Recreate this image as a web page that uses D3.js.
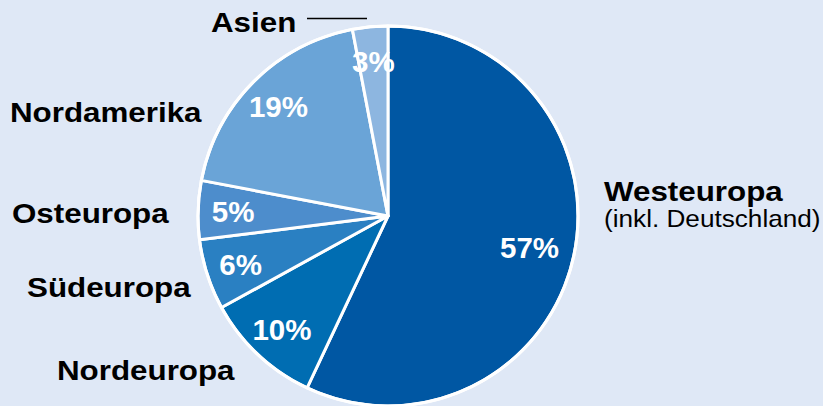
<!DOCTYPE html>
<html>
<head>
<meta charset="utf-8">
<script src="https://cdn.jsdelivr.net/npm/d3@7"></script>
<style>
  html, body { margin: 0; padding: 0; background: #dfe8f6; }
  svg { display: block; }
  text { font-family: "Liberation Sans", Arial, sans-serif; }
</style>
</head>
<body>
<svg id="chart" width="823" height="406"></svg>
<script>
// Data
const regions = ["Westeuropa", "Nordeuropa", "Südeuropa", "Osteuropa", "Nordamerika", "Asien"];
const shares = [57, 10, 6, 5, 19, 3];
const colors = ["#0057a3", "#006db2", "#2a80c2", "#4d8dcc", "#6aa4d7", "#8db6e0"];
const subtitle = "(inkl. Deutschland)";

// Layout (kept separate from data)
const W = 823, H = 406;
const cx = 388, cy = 216, R = 190;
const nameLayout = {
  "Westeuropa": {x: 604, y: 201},
  "Nordeuropa": {x: 57, y: 380},
  "Südeuropa": {x: 27, y: 297},
  "Osteuropa": {x: 12, y: 223},
  "Nordamerika": {x: 10, y: 122},
  "Asien": {x: 211, y: 32}
};

const svg = d3.select("#chart");
svg.append("rect").attr("width", W).attr("height", H).attr("fill", "#dfe8f6");

const data = regions.map((r, i) => ({name: r, value: shares[i], color: colors[i]}));

const pie = d3.pie().value(d => d.value).sort(null);
const arcs = pie(data);
const arc = d3.arc().innerRadius(0).outerRadius(R);

const g = svg.append("g").attr("transform", `translate(${cx},${cy})`);

g.selectAll("path.slice")
  .data(arcs)
  .join("path")
  .attr("class", "slice")
  .attr("d", arc)
  .attr("fill", d => d.data.color)
  .attr("stroke", "#ffffff")
  .attr("stroke-width", 3)
  .attr("stroke-linejoin", "round");

// outer white ring
g.append("circle").attr("r", R).attr("fill", "none").attr("stroke", "#fff").attr("stroke-width", 3);

// percentage labels
g.selectAll("text.pct")
  .data(arcs)
  .join("text")
  .attr("class", "pct")
  .attr("transform", d => {
    const lr = d.data.value > 50 ? 145 : 155;
    const c = d3.arc().innerRadius(lr).outerRadius(lr).centroid(d);
    return `translate(${c[0]},${c[1]})`;
  })
  .attr("text-anchor", "middle")
  .attr("dy", "0.36em")
  .attr("fill", "#ffffff")
  .attr("font-weight", "bold")
  .attr("font-size", 29.5)
  .text(d => d.data.value + "%");

// category labels
const names = svg.append("g");
data.forEach(d => {
  const p = nameLayout[d.name];
  names.append("text")
    .attr("transform", `translate(${p.x},${p.y}) scale(1.1,1)`)
    .attr("font-weight", "bold")
    .attr("font-size", 28.5)
    .attr("fill", "#000")
    .text(d.name);
});

// subtitle for Westeuropa
svg.append("text")
  .attr("transform", `translate(${nameLayout["Westeuropa"].x},227) scale(1.09,1)`)
  .attr("font-size", 24)
  .attr("fill", "#000")
  .text(subtitle);

// leader line for Asien
svg.append("line")
  .attr("x1", 307).attr("x2", 367)
  .attr("y1", 18.5).attr("y2", 18.5)
  .attr("stroke", "#000").attr("stroke-width", 1.5);
</script>
</body>
</html>
